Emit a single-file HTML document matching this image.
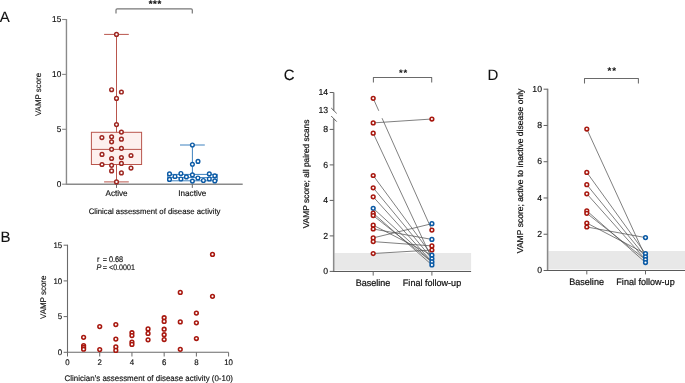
<!DOCTYPE html>
<html><head><meta charset="utf-8"><style>
html,body{margin:0;padding:0;background:#fff;}
svg{display:block;will-change:transform;font-family:"Liberation Sans", sans-serif;}
</style></head><body>
<svg width="685" height="383" viewBox="0 0 685 383">
<rect width="685" height="383" fill="#fff"/>
<text transform="translate(-0.30 21.50)" text-rendering="geometricPrecision" font-size="15" text-anchor="start" font-weight="normal" font-style="normal" fill="#111" stroke="#111" stroke-width="0.1">A</text>
<line x1="66.45" y1="19.00" x2="66.45" y2="184.20" stroke="#8a8a8a" stroke-width="1.4"/>
<line x1="62.10" y1="184.20" x2="66.45" y2="184.20" stroke="#8a8a8a" stroke-width="1.1"/>
<text transform="translate(61.30 186.80) scale(1 1.03)" text-rendering="geometricPrecision" font-size="8.3" text-anchor="end" font-weight="normal" font-style="normal" fill="#111" stroke="#111" stroke-width="0.15">0</text>
<line x1="62.10" y1="129.30" x2="66.45" y2="129.30" stroke="#8a8a8a" stroke-width="1.1"/>
<text transform="translate(61.30 131.90) scale(1 1.03)" text-rendering="geometricPrecision" font-size="8.3" text-anchor="end" font-weight="normal" font-style="normal" fill="#111" stroke="#111" stroke-width="0.15">5</text>
<line x1="62.10" y1="74.40" x2="66.45" y2="74.40" stroke="#8a8a8a" stroke-width="1.1"/>
<text transform="translate(61.30 77.00) scale(1 1.03)" text-rendering="geometricPrecision" font-size="8.3" text-anchor="end" font-weight="normal" font-style="normal" fill="#111" stroke="#111" stroke-width="0.15">10</text>
<line x1="62.10" y1="19.50" x2="66.45" y2="19.50" stroke="#8a8a8a" stroke-width="1.1"/>
<text transform="translate(61.30 22.10) scale(1 1.03)" text-rendering="geometricPrecision" font-size="8.3" text-anchor="end" font-weight="normal" font-style="normal" fill="#111" stroke="#111" stroke-width="0.15">15</text>
<line x1="65.75" y1="184.20" x2="242.70" y2="184.20" stroke="#8a8a8a" stroke-width="1.4"/>
<line x1="116.50" y1="184.20" x2="116.50" y2="187.90" stroke="#666" stroke-width="1.0"/>
<line x1="192.30" y1="184.20" x2="192.30" y2="187.90" stroke="#666" stroke-width="1.0"/>
<text transform="translate(116.60 196.20) scale(1 1.03)" text-rendering="geometricPrecision" font-size="8.1" text-anchor="middle" font-weight="normal" font-style="normal" fill="#111" stroke="#111" stroke-width="0.15">Active</text>
<text transform="translate(192.30 196.30) scale(1 1.03)" text-rendering="geometricPrecision" font-size="8.1" text-anchor="middle" font-weight="normal" font-style="normal" fill="#111" stroke="#111" stroke-width="0.15">Inactive</text>
<text transform="translate(154.60 214.00) scale(1 1.03)" text-rendering="geometricPrecision" font-size="7.75" text-anchor="middle" font-weight="normal" font-style="normal" fill="#111" stroke="#111" stroke-width="0.15">Clinical assessment of disease activity</text>
<text transform="translate(40.70 94.50) rotate(-90) scale(1 1.03)" text-rendering="geometricPrecision" font-size="7.9" text-anchor="middle" font-weight="normal" font-style="normal" fill="#111" stroke="#111" stroke-width="0.15">VAMP score</text>
<path d="M116.0 13.4 V10.0 Q116.0 8.8 117.2 8.8 H191.10000000000002 Q192.3 8.8 192.3 10.0 V13.4" fill="none" stroke="#777" stroke-width="1.2"/>
<text transform="translate(155.25 6.80)" text-rendering="geometricPrecision" font-size="9.6" text-anchor="middle" font-weight="bold" font-style="normal" fill="#111" stroke="#111" stroke-width="0.2" letter-spacing="0.6">***</text>
<rect x="91.4" y="132.3" width="50.2" height="32.2" fill="#fdf0ee" stroke="#b9564d" stroke-width="1"/>
<line x1="91.40" y1="149.40" x2="141.60" y2="149.40" stroke="#b9564d" stroke-width="1"/>
<line x1="116.50" y1="34.40" x2="116.50" y2="132.30" stroke="#b9564d" stroke-width="1"/>
<line x1="116.50" y1="164.50" x2="116.50" y2="181.90" stroke="#b9564d" stroke-width="1"/>
<line x1="104.10" y1="34.40" x2="128.80" y2="34.40" stroke="#b9564d" stroke-width="1"/>
<line x1="104.10" y1="181.90" x2="128.80" y2="181.90" stroke="#b9564d" stroke-width="1"/>
<circle cx="116.50" cy="34.40" r="1.85" fill="#fff" stroke="#9e2620" stroke-width="1.45"/>
<circle cx="111.60" cy="89.70" r="1.85" fill="#fff" stroke="#9e2620" stroke-width="1.45"/>
<circle cx="121.40" cy="92.00" r="1.85" fill="#fff" stroke="#9e2620" stroke-width="1.45"/>
<circle cx="116.50" cy="98.40" r="1.85" fill="#fff" stroke="#9e2620" stroke-width="1.45"/>
<circle cx="116.50" cy="124.60" r="1.85" fill="#fff" stroke="#9e2620" stroke-width="1.45"/>
<circle cx="121.40" cy="132.10" r="1.85" fill="#fff" stroke="#9e2620" stroke-width="1.45"/>
<circle cx="101.90" cy="137.60" r="1.85" fill="#fff" stroke="#9e2620" stroke-width="1.45"/>
<circle cx="111.60" cy="136.80" r="1.85" fill="#fff" stroke="#9e2620" stroke-width="1.45"/>
<circle cx="121.40" cy="139.20" r="1.85" fill="#fff" stroke="#9e2620" stroke-width="1.45"/>
<circle cx="111.60" cy="141.80" r="1.85" fill="#fff" stroke="#9e2620" stroke-width="1.45"/>
<circle cx="111.60" cy="149.30" r="1.85" fill="#fff" stroke="#9e2620" stroke-width="1.45"/>
<circle cx="121.40" cy="148.30" r="1.85" fill="#fff" stroke="#9e2620" stroke-width="1.45"/>
<circle cx="102.00" cy="154.40" r="1.85" fill="#fff" stroke="#9e2620" stroke-width="1.45"/>
<circle cx="111.60" cy="158.50" r="1.85" fill="#fff" stroke="#9e2620" stroke-width="1.45"/>
<circle cx="121.40" cy="157.50" r="1.85" fill="#fff" stroke="#9e2620" stroke-width="1.45"/>
<circle cx="131.00" cy="155.50" r="1.85" fill="#fff" stroke="#9e2620" stroke-width="1.45"/>
<circle cx="102.00" cy="164.50" r="1.85" fill="#fff" stroke="#9e2620" stroke-width="1.45"/>
<circle cx="111.60" cy="165.30" r="1.85" fill="#fff" stroke="#9e2620" stroke-width="1.45"/>
<circle cx="121.40" cy="163.40" r="1.85" fill="#fff" stroke="#9e2620" stroke-width="1.45"/>
<circle cx="111.60" cy="170.90" r="1.85" fill="#fff" stroke="#9e2620" stroke-width="1.45"/>
<circle cx="121.40" cy="172.90" r="1.85" fill="#fff" stroke="#9e2620" stroke-width="1.45"/>
<circle cx="131.00" cy="168.10" r="1.85" fill="#fff" stroke="#9e2620" stroke-width="1.45"/>
<circle cx="116.50" cy="181.90" r="1.85" fill="#fff" stroke="#9e2620" stroke-width="1.45"/>
<rect x="167.7" y="174.4" width="49.6" height="6.4" fill="none" stroke="#3f82bf" stroke-width="1"/>
<line x1="167.70" y1="177.60" x2="217.30" y2="177.60" stroke="#3f82bf" stroke-width="1"/>
<line x1="192.40" y1="145.00" x2="192.40" y2="174.40" stroke="#3f82bf" stroke-width="1"/>
<line x1="180.00" y1="145.00" x2="204.80" y2="145.00" stroke="#3f82bf" stroke-width="1"/>
<circle cx="192.40" cy="145.00" r="1.85" fill="#fff" stroke="#0b5aa5" stroke-width="1.4"/>
<circle cx="198.00" cy="161.40" r="1.85" fill="#fff" stroke="#0b5aa5" stroke-width="1.4"/>
<circle cx="192.40" cy="164.30" r="1.85" fill="#fff" stroke="#0b5aa5" stroke-width="1.4"/>
<circle cx="169.50" cy="173.90" r="1.85" fill="#fff" stroke="#0b5aa5" stroke-width="1.4"/>
<circle cx="169.50" cy="179.40" r="1.85" fill="#fff" stroke="#0b5aa5" stroke-width="1.4"/>
<circle cx="175.00" cy="176.50" r="1.85" fill="#fff" stroke="#0b5aa5" stroke-width="1.4"/>
<circle cx="180.90" cy="173.50" r="1.85" fill="#fff" stroke="#0b5aa5" stroke-width="1.4"/>
<circle cx="180.90" cy="179.00" r="1.85" fill="#fff" stroke="#0b5aa5" stroke-width="1.4"/>
<circle cx="186.40" cy="176.90" r="1.85" fill="#fff" stroke="#0b5aa5" stroke-width="1.4"/>
<circle cx="192.40" cy="174.90" r="1.85" fill="#fff" stroke="#0b5aa5" stroke-width="1.4"/>
<circle cx="192.40" cy="181.10" r="1.85" fill="#fff" stroke="#0b5aa5" stroke-width="1.4"/>
<circle cx="197.90" cy="178.00" r="1.85" fill="#fff" stroke="#0b5aa5" stroke-width="1.4"/>
<circle cx="203.40" cy="180.50" r="1.85" fill="#fff" stroke="#0b5aa5" stroke-width="1.4"/>
<circle cx="209.30" cy="173.90" r="1.85" fill="#fff" stroke="#0b5aa5" stroke-width="1.4"/>
<circle cx="209.30" cy="179.00" r="1.85" fill="#fff" stroke="#0b5aa5" stroke-width="1.4"/>
<circle cx="214.80" cy="175.80" r="1.85" fill="#fff" stroke="#0b5aa5" stroke-width="1.4"/>
<circle cx="214.80" cy="180.90" r="1.85" fill="#fff" stroke="#0b5aa5" stroke-width="1.4"/>
<text transform="translate(0.60 241.70)" text-rendering="geometricPrecision" font-size="15" text-anchor="start" font-weight="normal" font-style="normal" fill="#111" stroke="#111" stroke-width="0.1">B</text>
<line x1="67.50" y1="244.70" x2="67.50" y2="352.30" stroke="#6a6a6a" stroke-width="1.1"/>
<line x1="63.60" y1="352.30" x2="67.50" y2="352.30" stroke="#6a6a6a" stroke-width="1.0"/>
<text transform="translate(62.20 355.00) scale(1 1.03)" text-rendering="geometricPrecision" font-size="7.9" text-anchor="end" font-weight="normal" font-style="normal" fill="#111" stroke="#111" stroke-width="0.15">0</text>
<line x1="63.60" y1="316.60" x2="67.50" y2="316.60" stroke="#6a6a6a" stroke-width="1.0"/>
<text transform="translate(62.20 319.30) scale(1 1.03)" text-rendering="geometricPrecision" font-size="7.9" text-anchor="end" font-weight="normal" font-style="normal" fill="#111" stroke="#111" stroke-width="0.15">5</text>
<line x1="63.60" y1="280.90" x2="67.50" y2="280.90" stroke="#6a6a6a" stroke-width="1.0"/>
<text transform="translate(62.20 283.60) scale(1 1.03)" text-rendering="geometricPrecision" font-size="7.9" text-anchor="end" font-weight="normal" font-style="normal" fill="#111" stroke="#111" stroke-width="0.15">10</text>
<line x1="63.60" y1="245.20" x2="67.50" y2="245.20" stroke="#6a6a6a" stroke-width="1.0"/>
<text transform="translate(62.20 247.90) scale(1 1.03)" text-rendering="geometricPrecision" font-size="7.9" text-anchor="end" font-weight="normal" font-style="normal" fill="#111" stroke="#111" stroke-width="0.15">15</text>
<line x1="67.00" y1="352.30" x2="228.60" y2="352.30" stroke="#6a6a6a" stroke-width="1.1"/>
<line x1="67.50" y1="352.30" x2="67.50" y2="356.50" stroke="#6a6a6a" stroke-width="1.0"/>
<text transform="translate(67.50 365.00) scale(1 1.03)" text-rendering="geometricPrecision" font-size="7.9" text-anchor="middle" font-weight="normal" font-style="normal" fill="#111" stroke="#111" stroke-width="0.15">0</text>
<line x1="99.72" y1="352.30" x2="99.72" y2="356.50" stroke="#6a6a6a" stroke-width="1.0"/>
<text transform="translate(99.72 365.00) scale(1 1.03)" text-rendering="geometricPrecision" font-size="7.9" text-anchor="middle" font-weight="normal" font-style="normal" fill="#111" stroke="#111" stroke-width="0.15">2</text>
<line x1="131.94" y1="352.30" x2="131.94" y2="356.50" stroke="#6a6a6a" stroke-width="1.0"/>
<text transform="translate(131.94 365.00) scale(1 1.03)" text-rendering="geometricPrecision" font-size="7.9" text-anchor="middle" font-weight="normal" font-style="normal" fill="#111" stroke="#111" stroke-width="0.15">4</text>
<line x1="164.16" y1="352.30" x2="164.16" y2="356.50" stroke="#6a6a6a" stroke-width="1.0"/>
<text transform="translate(164.16 365.00) scale(1 1.03)" text-rendering="geometricPrecision" font-size="7.9" text-anchor="middle" font-weight="normal" font-style="normal" fill="#111" stroke="#111" stroke-width="0.15">6</text>
<line x1="196.38" y1="352.30" x2="196.38" y2="356.50" stroke="#6a6a6a" stroke-width="1.0"/>
<text transform="translate(196.38 365.00) scale(1 1.03)" text-rendering="geometricPrecision" font-size="7.9" text-anchor="middle" font-weight="normal" font-style="normal" fill="#111" stroke="#111" stroke-width="0.15">8</text>
<line x1="228.60" y1="352.30" x2="228.60" y2="356.50" stroke="#6a6a6a" stroke-width="1.0"/>
<text transform="translate(228.60 365.00) scale(1 1.03)" text-rendering="geometricPrecision" font-size="7.9" text-anchor="middle" font-weight="normal" font-style="normal" fill="#111" stroke="#111" stroke-width="0.15">10</text>
<text transform="translate(148.80 381.40) scale(1 1.03)" text-rendering="geometricPrecision" font-size="7.95" text-anchor="middle" font-weight="normal" font-style="normal" fill="#111" stroke="#111" stroke-width="0.15">Clinician’s assessment of disease activity (0-10)</text>
<text transform="translate(45.50 297.30) rotate(-90) scale(1 1.03)" text-rendering="geometricPrecision" font-size="7.95" text-anchor="middle" font-weight="normal" font-style="normal" fill="#111" stroke="#111" stroke-width="0.15">VAMP score</text>
<text transform="translate(96.90 261.50) scale(1 1.12)" text-rendering="geometricPrecision" font-size="7.3" text-anchor="start" font-weight="normal" font-style="normal" fill="#111" stroke="#111" stroke-width="0.15">r</text>
<text transform="translate(102.70 261.50) scale(1 1.12)" text-rendering="geometricPrecision" font-size="7.3" text-anchor="start" font-weight="normal" font-style="normal" fill="#111" stroke="#111" stroke-width="0.15">=</text>
<text transform="translate(108.90 261.50) scale(1 1.12)" text-rendering="geometricPrecision" font-size="7.3" text-anchor="start" font-weight="normal" font-style="normal" fill="#111" stroke="#111" stroke-width="0.15">0.68</text>
<text transform="translate(96.60 269.50) scale(1 1.12)" text-rendering="geometricPrecision" font-size="7.3" text-anchor="start" font-weight="normal" font-style="italic" fill="#111" stroke="#111" stroke-width="0.15">P</text>
<text transform="translate(102.70 269.50) scale(1 1.12)" text-rendering="geometricPrecision" font-size="7.3" text-anchor="start" font-weight="normal" font-style="normal" fill="#111" stroke="#111" stroke-width="0.15">=</text>
<text transform="translate(109.00 269.50) scale(1 1.12)" text-rendering="geometricPrecision" font-size="7.1" text-anchor="start" font-weight="normal" font-style="normal" fill="#111" stroke="#111" stroke-width="0.15">&lt;0.0001</text>
<circle cx="83.61" cy="337.30" r="1.85" fill="#fff" stroke="#a8180f" stroke-width="1.55"/>
<circle cx="83.61" cy="345.50" r="1.85" fill="#fff" stroke="#a8180f" stroke-width="1.55"/>
<circle cx="83.61" cy="347.40" r="1.85" fill="#fff" stroke="#a8180f" stroke-width="1.55"/>
<circle cx="83.61" cy="349.20" r="1.85" fill="#fff" stroke="#a8180f" stroke-width="1.55"/>
<circle cx="99.72" cy="326.60" r="1.85" fill="#fff" stroke="#a8180f" stroke-width="1.55"/>
<circle cx="99.72" cy="349.60" r="1.85" fill="#fff" stroke="#a8180f" stroke-width="1.55"/>
<circle cx="115.83" cy="324.60" r="1.85" fill="#fff" stroke="#a8180f" stroke-width="1.55"/>
<circle cx="115.83" cy="339.10" r="1.85" fill="#fff" stroke="#a8180f" stroke-width="1.55"/>
<circle cx="115.83" cy="346.90" r="1.85" fill="#fff" stroke="#a8180f" stroke-width="1.55"/>
<circle cx="115.83" cy="350.40" r="1.85" fill="#fff" stroke="#a8180f" stroke-width="1.55"/>
<circle cx="131.94" cy="332.70" r="1.85" fill="#fff" stroke="#a8180f" stroke-width="1.55"/>
<circle cx="131.94" cy="335.60" r="1.85" fill="#fff" stroke="#a8180f" stroke-width="1.55"/>
<circle cx="131.94" cy="342.10" r="1.85" fill="#fff" stroke="#a8180f" stroke-width="1.55"/>
<circle cx="131.94" cy="344.40" r="1.85" fill="#fff" stroke="#a8180f" stroke-width="1.55"/>
<circle cx="148.05" cy="328.90" r="1.85" fill="#fff" stroke="#a8180f" stroke-width="1.55"/>
<circle cx="148.05" cy="333.40" r="1.85" fill="#fff" stroke="#a8180f" stroke-width="1.55"/>
<circle cx="148.05" cy="339.80" r="1.85" fill="#fff" stroke="#a8180f" stroke-width="1.55"/>
<circle cx="164.16" cy="317.70" r="1.85" fill="#fff" stroke="#a8180f" stroke-width="1.55"/>
<circle cx="164.16" cy="321.40" r="1.85" fill="#fff" stroke="#a8180f" stroke-width="1.55"/>
<circle cx="164.16" cy="329.20" r="1.85" fill="#fff" stroke="#a8180f" stroke-width="1.55"/>
<circle cx="164.16" cy="334.70" r="1.85" fill="#fff" stroke="#a8180f" stroke-width="1.55"/>
<circle cx="164.16" cy="339.50" r="1.85" fill="#fff" stroke="#a8180f" stroke-width="1.55"/>
<circle cx="180.27" cy="292.40" r="1.85" fill="#fff" stroke="#a8180f" stroke-width="1.55"/>
<circle cx="180.27" cy="321.90" r="1.85" fill="#fff" stroke="#a8180f" stroke-width="1.55"/>
<circle cx="180.27" cy="349.30" r="1.85" fill="#fff" stroke="#a8180f" stroke-width="1.55"/>
<circle cx="196.38" cy="313.10" r="1.85" fill="#fff" stroke="#a8180f" stroke-width="1.55"/>
<circle cx="196.38" cy="322.80" r="1.85" fill="#fff" stroke="#a8180f" stroke-width="1.55"/>
<circle cx="196.38" cy="338.50" r="1.85" fill="#fff" stroke="#a8180f" stroke-width="1.55"/>
<circle cx="212.49" cy="254.40" r="1.85" fill="#fff" stroke="#a8180f" stroke-width="1.55"/>
<circle cx="212.49" cy="296.30" r="1.85" fill="#fff" stroke="#a8180f" stroke-width="1.55"/>
<text transform="translate(283.80 79.80)" text-rendering="geometricPrecision" font-size="15" text-anchor="start" font-weight="normal" font-style="normal" fill="#111" stroke="#111" stroke-width="0.1">C</text>
<rect x="334.5" y="253.0" width="136.60000000000002" height="17.40" fill="#e8e8e8"/>
<line x1="333.70" y1="92.50" x2="333.70" y2="110.70" stroke="#8a8a8a" stroke-width="1.6"/>
<line x1="333.70" y1="118.80" x2="333.70" y2="271.50" stroke="#8a8a8a" stroke-width="1.6"/>
<line x1="331.20" y1="108.00" x2="336.70" y2="113.40" stroke="#555" stroke-width="0.9"/>
<line x1="331.20" y1="116.00" x2="336.70" y2="121.60" stroke="#555" stroke-width="0.9"/>
<line x1="329.70" y1="271.40" x2="333.70" y2="271.40" stroke="#606060" stroke-width="1.0"/>
<text transform="translate(328.20 274.15)" text-rendering="geometricPrecision" font-size="8.7" text-anchor="end" font-weight="normal" font-style="normal" fill="#111" stroke="#111" stroke-width="0.15">0</text>
<line x1="329.70" y1="235.90" x2="333.70" y2="235.90" stroke="#606060" stroke-width="1.0"/>
<text transform="translate(328.20 238.65)" text-rendering="geometricPrecision" font-size="8.7" text-anchor="end" font-weight="normal" font-style="normal" fill="#111" stroke="#111" stroke-width="0.15">2</text>
<line x1="329.70" y1="200.40" x2="333.70" y2="200.40" stroke="#606060" stroke-width="1.0"/>
<text transform="translate(328.20 203.15)" text-rendering="geometricPrecision" font-size="8.7" text-anchor="end" font-weight="normal" font-style="normal" fill="#111" stroke="#111" stroke-width="0.15">4</text>
<line x1="329.70" y1="164.90" x2="333.70" y2="164.90" stroke="#606060" stroke-width="1.0"/>
<text transform="translate(328.20 167.65)" text-rendering="geometricPrecision" font-size="8.7" text-anchor="end" font-weight="normal" font-style="normal" fill="#111" stroke="#111" stroke-width="0.15">6</text>
<line x1="329.70" y1="129.40" x2="333.70" y2="129.40" stroke="#606060" stroke-width="1.0"/>
<text transform="translate(328.20 132.15)" text-rendering="geometricPrecision" font-size="8.7" text-anchor="end" font-weight="normal" font-style="normal" fill="#111" stroke="#111" stroke-width="0.15">8</text>
<line x1="329.70" y1="92.50" x2="333.70" y2="92.50" stroke="#606060" stroke-width="1.0"/>
<text transform="translate(328.20 95.25)" text-rendering="geometricPrecision" font-size="8.7" text-anchor="end" font-weight="normal" font-style="normal" fill="#111" stroke="#111" stroke-width="0.15">14</text>
<text transform="translate(328.20 113.45)" text-rendering="geometricPrecision" font-size="8.7" text-anchor="end" font-weight="normal" font-style="normal" fill="#111" stroke="#111" stroke-width="0.15">13</text>
<line x1="332.90" y1="271.50" x2="471.10" y2="271.50" stroke="#5a5a5a" stroke-width="1.1"/>
<line x1="373.20" y1="271.50" x2="373.20" y2="275.60" stroke="#666" stroke-width="1.0"/>
<line x1="431.90" y1="271.50" x2="431.90" y2="275.60" stroke="#666" stroke-width="1.0"/>
<text transform="translate(373.00 285.50) scale(1 1.03)" text-rendering="geometricPrecision" font-size="9.05" text-anchor="middle" font-weight="normal" font-style="normal" fill="#111" stroke="#111" stroke-width="0.22">Baseline</text>
<text transform="translate(432.00 285.50) scale(1 1.03)" text-rendering="geometricPrecision" font-size="9.05" text-anchor="middle" font-weight="normal" font-style="normal" fill="#111" stroke="#111" stroke-width="0.22">Final follow-up</text>
<text transform="translate(309.30 173.90) rotate(-90)" text-rendering="geometricPrecision" font-size="8.4" text-anchor="middle" font-weight="normal" font-style="normal" fill="#111" stroke="#111" stroke-width="0.22">VAMP score; all paired scans</text>
<path d="M373.4 82.6 V77.4 H431.7 V82.6" fill="none" stroke="#6a6a6a" stroke-width="1.05" stroke-linejoin="round"/>
<text transform="translate(403.55 76.20)" text-rendering="geometricPrecision" font-size="9.5" text-anchor="middle" font-weight="bold" font-style="normal" fill="#111" stroke="#111" stroke-width="0.05" letter-spacing="0.9">**</text>
<line x1="373.20" y1="98.30" x2="378.77" y2="110.80" stroke="#555" stroke-width="0.75"/>
<line x1="382.06" y1="118.20" x2="431.90" y2="230.10" stroke="#555" stroke-width="0.75"/>
<line x1="373.20" y1="122.90" x2="431.90" y2="119.00" stroke="#555" stroke-width="0.75"/>
<line x1="373.20" y1="133.20" x2="431.90" y2="258.70" stroke="#555" stroke-width="0.75"/>
<line x1="373.20" y1="175.50" x2="431.90" y2="255.20" stroke="#555" stroke-width="0.75"/>
<line x1="373.20" y1="187.80" x2="431.90" y2="258.70" stroke="#555" stroke-width="0.75"/>
<line x1="373.20" y1="196.80" x2="431.90" y2="261.90" stroke="#555" stroke-width="0.75"/>
<line x1="373.20" y1="208.30" x2="431.90" y2="261.90" stroke="#555" stroke-width="0.75"/>
<line x1="373.20" y1="213.20" x2="431.90" y2="264.90" stroke="#555" stroke-width="0.75"/>
<line x1="373.20" y1="215.60" x2="431.90" y2="261.90" stroke="#555" stroke-width="0.75"/>
<line x1="373.20" y1="225.20" x2="431.90" y2="255.20" stroke="#555" stroke-width="0.75"/>
<line x1="373.20" y1="229.00" x2="431.90" y2="239.40" stroke="#555" stroke-width="0.75"/>
<line x1="373.20" y1="237.90" x2="431.90" y2="223.70" stroke="#555" stroke-width="0.75"/>
<line x1="373.20" y1="241.60" x2="431.90" y2="245.90" stroke="#555" stroke-width="0.75"/>
<line x1="373.20" y1="253.50" x2="431.90" y2="250.00" stroke="#555" stroke-width="0.75"/>
<circle cx="373.20" cy="98.30" r="1.85" fill="#fff" stroke="#a8180f" stroke-width="1.55"/>
<circle cx="373.20" cy="122.90" r="1.85" fill="#fff" stroke="#a8180f" stroke-width="1.55"/>
<circle cx="373.20" cy="133.20" r="1.85" fill="#fff" stroke="#a8180f" stroke-width="1.55"/>
<circle cx="373.20" cy="175.50" r="1.85" fill="#fff" stroke="#a8180f" stroke-width="1.55"/>
<circle cx="373.20" cy="187.80" r="1.85" fill="#fff" stroke="#a8180f" stroke-width="1.55"/>
<circle cx="373.20" cy="196.80" r="1.85" fill="#fff" stroke="#a8180f" stroke-width="1.55"/>
<circle cx="373.20" cy="208.30" r="1.85" fill="#fff" stroke="#0b5aa5" stroke-width="1.55"/>
<circle cx="373.20" cy="213.20" r="1.85" fill="#fff" stroke="#a8180f" stroke-width="1.55"/>
<circle cx="373.20" cy="215.60" r="1.85" fill="#fff" stroke="#a8180f" stroke-width="1.55"/>
<circle cx="373.20" cy="225.20" r="1.85" fill="#fff" stroke="#a8180f" stroke-width="1.55"/>
<circle cx="373.20" cy="229.00" r="1.85" fill="#fff" stroke="#a8180f" stroke-width="1.55"/>
<circle cx="373.20" cy="237.90" r="1.85" fill="#fff" stroke="#a8180f" stroke-width="1.55"/>
<circle cx="373.20" cy="241.60" r="1.85" fill="#fff" stroke="#a8180f" stroke-width="1.55"/>
<circle cx="373.20" cy="253.50" r="1.85" fill="#fff" stroke="#a8180f" stroke-width="1.55"/>
<circle cx="431.90" cy="119.00" r="1.85" fill="#fff" stroke="#a8180f" stroke-width="1.55"/>
<circle cx="431.90" cy="223.70" r="1.85" fill="#fff" stroke="#0b5aa5" stroke-width="1.55"/>
<circle cx="431.90" cy="230.10" r="1.85" fill="#fff" stroke="#a8180f" stroke-width="1.55"/>
<circle cx="431.90" cy="239.40" r="1.85" fill="#fff" stroke="#0b5aa5" stroke-width="1.55"/>
<circle cx="431.90" cy="245.90" r="1.85" fill="#fff" stroke="#a8180f" stroke-width="1.55"/>
<circle cx="431.90" cy="250.00" r="1.85" fill="#fff" stroke="#a8180f" stroke-width="1.55"/>
<circle cx="431.90" cy="255.20" r="1.85" fill="#fff" stroke="#0b5aa5" stroke-width="1.55"/>
<circle cx="431.90" cy="258.70" r="1.85" fill="#fff" stroke="#0b5aa5" stroke-width="1.55"/>
<circle cx="431.90" cy="261.90" r="1.85" fill="#fff" stroke="#0b5aa5" stroke-width="1.55"/>
<circle cx="431.90" cy="264.90" r="1.85" fill="#fff" stroke="#0b5aa5" stroke-width="1.55"/>
<text transform="translate(487.60 80.00)" text-rendering="geometricPrecision" font-size="15" text-anchor="start" font-weight="normal" font-style="normal" fill="#111" stroke="#111" stroke-width="0.1">D</text>
<rect x="548.4" y="251.0" width="137.39999999999998" height="18.40" fill="#e8e8e8"/>
<line x1="547.60" y1="88.70" x2="547.60" y2="270.50" stroke="#8a8a8a" stroke-width="1.6"/>
<line x1="543.60" y1="270.50" x2="547.60" y2="270.50" stroke="#606060" stroke-width="1.0"/>
<text transform="translate(542.00 273.25)" text-rendering="geometricPrecision" font-size="8.7" text-anchor="end" font-weight="normal" font-style="normal" fill="#111" stroke="#111" stroke-width="0.15">0</text>
<line x1="543.60" y1="234.24" x2="547.60" y2="234.24" stroke="#606060" stroke-width="1.0"/>
<text transform="translate(542.00 236.99)" text-rendering="geometricPrecision" font-size="8.7" text-anchor="end" font-weight="normal" font-style="normal" fill="#111" stroke="#111" stroke-width="0.15">2</text>
<line x1="543.60" y1="197.98" x2="547.60" y2="197.98" stroke="#606060" stroke-width="1.0"/>
<text transform="translate(542.00 200.73)" text-rendering="geometricPrecision" font-size="8.7" text-anchor="end" font-weight="normal" font-style="normal" fill="#111" stroke="#111" stroke-width="0.15">4</text>
<line x1="543.60" y1="161.72" x2="547.60" y2="161.72" stroke="#606060" stroke-width="1.0"/>
<text transform="translate(542.00 164.47)" text-rendering="geometricPrecision" font-size="8.7" text-anchor="end" font-weight="normal" font-style="normal" fill="#111" stroke="#111" stroke-width="0.15">6</text>
<line x1="543.60" y1="125.46" x2="547.60" y2="125.46" stroke="#606060" stroke-width="1.0"/>
<text transform="translate(542.00 128.21)" text-rendering="geometricPrecision" font-size="8.7" text-anchor="end" font-weight="normal" font-style="normal" fill="#111" stroke="#111" stroke-width="0.15">8</text>
<line x1="543.60" y1="89.20" x2="547.60" y2="89.20" stroke="#606060" stroke-width="1.0"/>
<text transform="translate(542.00 91.95)" text-rendering="geometricPrecision" font-size="8.7" text-anchor="end" font-weight="normal" font-style="normal" fill="#111" stroke="#111" stroke-width="0.15">10</text>
<line x1="546.80" y1="270.50" x2="685.00" y2="270.50" stroke="#5a5a5a" stroke-width="1.1"/>
<line x1="586.80" y1="270.50" x2="586.80" y2="274.40" stroke="#666" stroke-width="1.0"/>
<line x1="645.50" y1="270.50" x2="645.50" y2="274.40" stroke="#666" stroke-width="1.0"/>
<text transform="translate(586.60 285.20) scale(1 1.03)" text-rendering="geometricPrecision" font-size="9.05" text-anchor="middle" font-weight="normal" font-style="normal" fill="#111" stroke="#111" stroke-width="0.22">Baseline</text>
<text transform="translate(645.50 285.20) scale(1 1.03)" text-rendering="geometricPrecision" font-size="9.05" text-anchor="middle" font-weight="normal" font-style="normal" fill="#111" stroke="#111" stroke-width="0.22">Final follow-up</text>
<text transform="translate(522.50 170.90) rotate(-90)" text-rendering="geometricPrecision" font-size="8.55" text-anchor="middle" font-weight="normal" font-style="normal" fill="#111" stroke="#111" stroke-width="0.22">VAMP score; active to inactive disease only</text>
<path d="M584.5 83.6 V78.4 H638.4 V83.6" fill="none" stroke="#6a6a6a" stroke-width="1.05" stroke-linejoin="round"/>
<text transform="translate(612.20 73.80)" text-rendering="geometricPrecision" font-size="9.7" text-anchor="middle" font-weight="bold" font-style="normal" fill="#111" stroke="#111" stroke-width="0.05" letter-spacing="1.0">**</text>
<line x1="586.80" y1="129.00" x2="645.50" y2="256.80" stroke="#555" stroke-width="0.75"/>
<line x1="586.80" y1="172.40" x2="645.50" y2="253.70" stroke="#555" stroke-width="0.75"/>
<line x1="586.80" y1="184.70" x2="645.50" y2="256.80" stroke="#555" stroke-width="0.75"/>
<line x1="586.80" y1="193.80" x2="645.50" y2="259.60" stroke="#555" stroke-width="0.75"/>
<line x1="586.80" y1="210.80" x2="645.50" y2="262.50" stroke="#555" stroke-width="0.75"/>
<line x1="586.80" y1="213.30" x2="645.50" y2="259.60" stroke="#555" stroke-width="0.75"/>
<line x1="586.80" y1="223.00" x2="645.50" y2="253.70" stroke="#555" stroke-width="0.75"/>
<line x1="586.80" y1="227.00" x2="645.50" y2="237.60" stroke="#555" stroke-width="0.75"/>
<circle cx="586.80" cy="129.00" r="1.85" fill="#fff" stroke="#a8180f" stroke-width="1.55"/>
<circle cx="586.80" cy="172.40" r="1.85" fill="#fff" stroke="#a8180f" stroke-width="1.55"/>
<circle cx="586.80" cy="184.70" r="1.85" fill="#fff" stroke="#a8180f" stroke-width="1.55"/>
<circle cx="586.80" cy="193.80" r="1.85" fill="#fff" stroke="#a8180f" stroke-width="1.55"/>
<circle cx="586.80" cy="210.80" r="1.85" fill="#fff" stroke="#a8180f" stroke-width="1.55"/>
<circle cx="586.80" cy="213.30" r="1.85" fill="#fff" stroke="#a8180f" stroke-width="1.55"/>
<circle cx="586.80" cy="223.00" r="1.85" fill="#fff" stroke="#a8180f" stroke-width="1.55"/>
<circle cx="586.80" cy="227.00" r="1.85" fill="#fff" stroke="#a8180f" stroke-width="1.55"/>
<circle cx="645.50" cy="237.60" r="1.85" fill="#fff" stroke="#0b5aa5" stroke-width="1.55"/>
<circle cx="645.50" cy="253.70" r="1.85" fill="#fff" stroke="#0b5aa5" stroke-width="1.55"/>
<circle cx="645.50" cy="256.80" r="1.85" fill="#fff" stroke="#0b5aa5" stroke-width="1.55"/>
<circle cx="645.50" cy="259.60" r="1.85" fill="#fff" stroke="#0b5aa5" stroke-width="1.55"/>
<circle cx="645.50" cy="262.50" r="1.85" fill="#fff" stroke="#0b5aa5" stroke-width="1.55"/>
</svg></body></html>
